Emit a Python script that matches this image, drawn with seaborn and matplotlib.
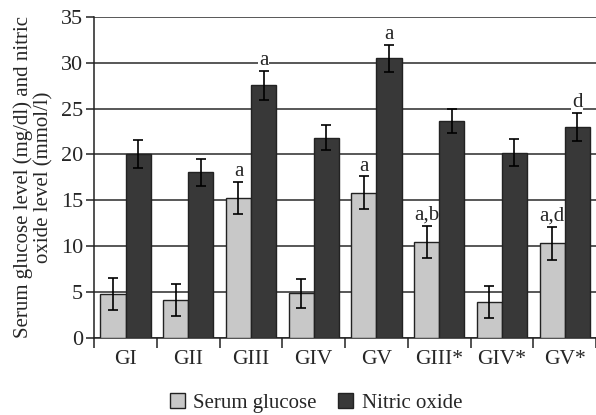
import pandas as pd
import matplotlib.pyplot as plt
import seaborn as sns
from matplotlib.patches import Patch

groups = ['GI', 'GII', 'GIII', 'GIV', 'GV', 'GIII*', 'GIV*', 'GV*']
glucose = [4.75, 4.15, 15.25, 4.85, 15.85, 10.5, 3.95, 10.3]
glucose_err = [1.75, 1.75, 1.75, 1.6, 1.75, 1.75, 1.75, 1.8]
nitric = [20.05, 18.05, 27.55, 21.85, 30.5, 23.7, 20.2, 23.0]
nitric_err = [1.5, 1.45, 1.6, 1.4, 1.45, 1.3, 1.45, 1.55]
glucose_marks = ['', '', 'a', '', 'a', 'a,b', '', 'a,d']
nitric_marks = ['', '', 'a', '', 'a', '', '', 'd']
series = ['Serum glucose', 'Nitric oxide']
colors = ['#c8c8c8', '#383838']

df = pd.DataFrame({
    'group': groups * 2,
    'value': glucose + nitric,
    'err': glucose_err + nitric_err,
    'mark': glucose_marks + nitric_marks,
    'series': [series[0]] * len(groups) + [series[1]] * len(groups),
})

sns.set_style('white')
plt.rcParams['font.family'] = ['Liberation Serif', 'DejaVu Serif']

fig = plt.figure(figsize=(5.96, 4.15), dpi=100)
ax = fig.add_axes([0.158, 0.186, 0.842, 0.773])

sns.barplot(data=df, x='group', y='value', hue='series', palette=colors,
            errorbar=None, width=0.8, edgecolor='#222222', linewidth=1.0,
            legend=False, ax=ax, zorder=3)

# error bars and letters on top of each bar (patches are in hue order)
bars = [p for p in ax.patches]
for p, (_, row) in zip(bars, df.iterrows()):
    xc = p.get_x() + p.get_width() / 2
    ax.errorbar(xc, row['value'], yerr=row['err'], fmt='none', ecolor='black',
                elinewidth=1.2, capsize=3.8, capthick=1.2, zorder=4)
    if row['mark']:
        # white box breaks the gridline, but sits under the bars
        ax.text(xc, row['value'] + row['err'] + 0.1, row['mark'], ha='center',
                va='bottom', fontsize=15, zorder=2.5,
                bbox=dict(facecolor='white', edgecolor='none', pad=0.5))

ax.set_ylim(0, 35)
ax.set_xlim(-0.5, len(groups) - 0.5)
ax.set_yticks(range(0, 36, 5))
ax.yaxis.grid(True, color='#2a2a2a', linewidth=1.1)
ax.set_axisbelow(True)
for s in ['top', 'right']:
    ax.spines[s].set_visible(False)
ax.spines['left'].set_color('#222222')
ax.spines['bottom'].set_color('#222222')
ax.spines['left'].set_linewidth(1.1)
ax.spines['bottom'].set_linewidth(1.1)

ax.set_xticks(range(len(groups)))
ax.set_xticklabels(groups)
ax.set_xticks([i - 0.5 for i in range(len(groups) + 1)], minor=True)
ax.tick_params(axis='x', which='major', length=0, labelsize=15.5, pad=9)
ax.tick_params(axis='x', which='minor', length=7, width=1.1, color='#222222', direction='out', bottom=True)
ax.tick_params(axis='y', length=6, width=1.1, color='#222222', direction='out', labelsize=16, left=True, pad=2)
ax.set_xlabel('')
ax.set_ylabel('Serum glucose level (mg/dl) and nitric\noxide level (mmol/l)', fontsize=15,
              labelpad=5, linespacing=1.1)

handles = [Patch(facecolor=c, edgecolor='#222222', label=l) for c, l in zip(colors, series)]
fig.legend(handles=handles, loc='lower center', bbox_to_anchor=(0.53, -0.04), ncol=2,
           frameon=False, fontsize=15, handlelength=0.75, handleheight=0.75,
           handletextpad=0.4, columnspacing=1.0)

fig.savefig('out.png', dpi=100)
